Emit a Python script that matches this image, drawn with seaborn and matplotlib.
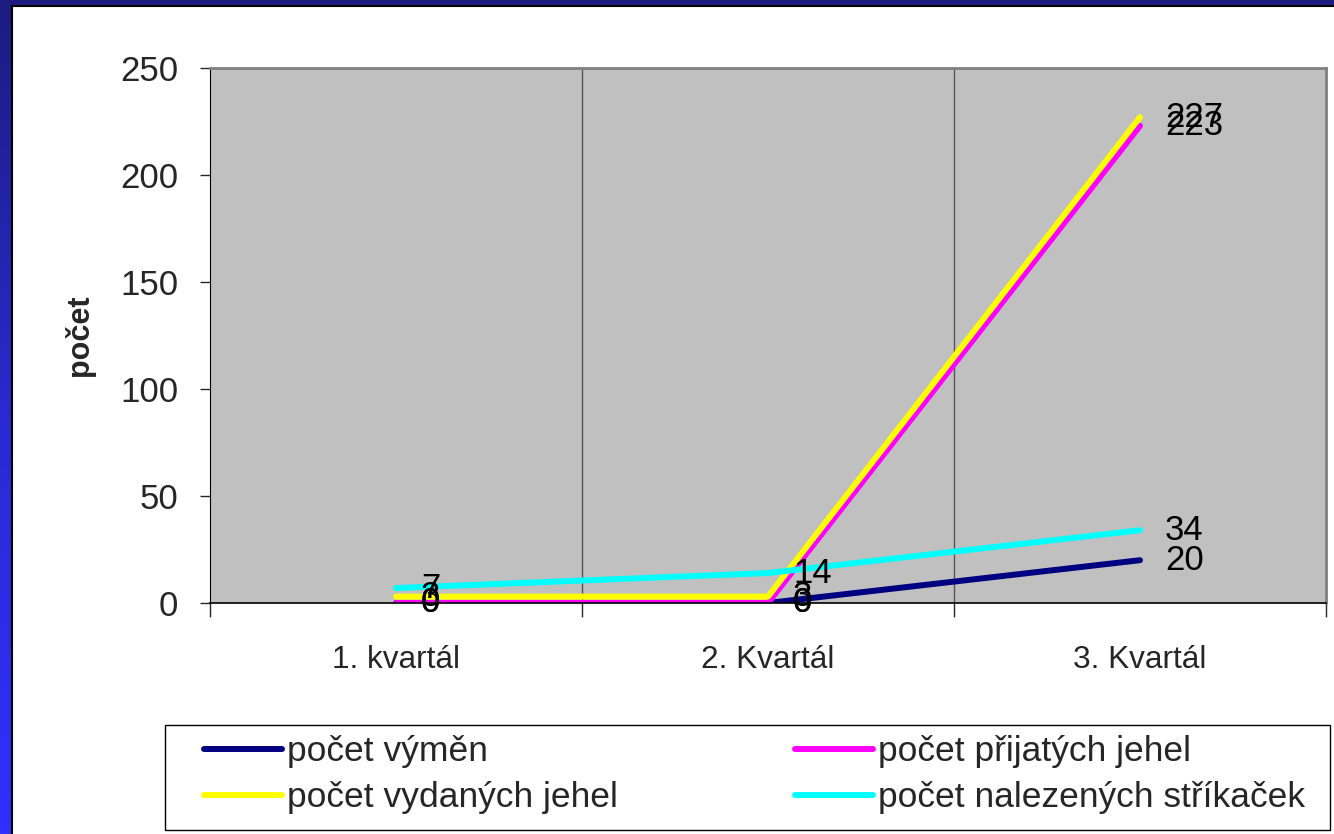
import numpy as np
import pandas as pd
import seaborn as sns
import matplotlib.pyplot as plt
from matplotlib.patches import Rectangle
from matplotlib.lines import Line2D
from matplotlib.colors import LinearSegmentedColormap

# Data
kvartaly = ["1. kvartál", "2. Kvartál", "3. Kvartál"]
pocet_vymen = [0, 0, 20]
pocet_prijatych = [0, 0, 223]
pocet_vydanych = [3, 3, 227]
pocet_nalezenych = [7, 14, 34]

serie = ["počet výměn", "počet přijatých jehel", "počet vydaných jehel", "počet nalezených stříkaček"]
barvy = ["#000080", "#FF00FF", "#FFFF00", "#00FFFF"]

df = pd.DataFrame({
    "x": list(range(3)) * 4,
    "hodnota": pocet_vymen + pocet_prijatych + pocet_vydanych + pocet_nalezenych,
    "serie": [s for s in serie for _ in range(3)],
})

sns.set_style("white")
plt.rcParams['font.family'] = ['Liberation Sans', 'DejaVu Sans']

fig = plt.figure(figsize=(13.34, 8.34), dpi=100)
fig.patch.set_facecolor("white")

# Ramecek: horni pruh a levy pruh s prechodem
fig.patches.append(Rectangle((0, 1 - 6 / 834), 1, 6 / 834, transform=fig.transFigure,
                             facecolor="#1c1c80", edgecolor="none", zorder=0))
ax_bar = fig.add_axes([0, 0, 12 / 1334, 1])
grad = np.linspace(0, 1, 256).reshape(-1, 1)
cmap_ram = LinearSegmentedColormap.from_list("ram", ["#1c1c80", "#2a2ad0", "#3030ff"])
ax_bar.imshow(grad, aspect="auto", cmap=cmap_ram, origin="upper")
ax_bar.axis("off")
fig.add_artist(Line2D([12 / 1334, 12 / 1334], [0, 1 - 6 / 834], transform=fig.transFigure,
                      color="black", linewidth=1.5))
fig.add_artist(Line2D([12 / 1334, 1], [1 - 6 / 834, 1 - 6 / 834], transform=fig.transFigure,
                      color="black", linewidth=1.5))

ax = fig.add_axes([210 / 1334, 231 / 834, 1116 / 1334, 535 / 834])
ax.set_facecolor("#C0C0C0")

sns.lineplot(data=df, x="x", y="hodnota", hue="serie", hue_order=serie, palette=barvy,
             linewidth=4.3, ax=ax, legend=False, solid_capstyle="round")

# Popisky hodnot
for s, hodnoty in zip(serie, [pocet_vymen, pocet_prijatych, pocet_vydanych, pocet_nalezenych]):
    for i, v in enumerate(hodnoty):
        ax.annotate(str(v), (i, v), xytext=(18, 0), textcoords="offset points",
                    ha="left", va="center", fontsize=25, color="black")

ax.set_xlim(-0.5, 2.5)
ax.set_ylim(0, 250)
ax.set_yticks([0, 50, 100, 150, 200, 250])
ax.tick_params(axis="y", labelsize=25, length=7, width=1, direction="out", left=True, pad=16)
ax.set_xticks([-0.5, 0.5, 1.5, 2.5])
ax.set_xticklabels([])
ax.tick_params(axis="x", which="major", length=10, width=1, direction="out", bottom=True)
ax.set_xticks([0, 1, 2], minor=True)
ax.set_xticklabels(kvartaly, minor=True)
ax.tick_params(axis="x", which="minor", length=0, labelsize=22.7, pad=30)
for xg in [0.5, 1.5]:
    ax.axvline(xg, color="#555555", linewidth=1, zorder=0.5)

ax.set_xlabel("")
ax.set_ylabel("počet", fontsize=22, fontweight="bold", labelpad=18)

ax.spines["left"].set_color("black")
ax.spines["bottom"].set_color("black")
ax.spines["bottom"].set_linewidth(1.2)
ax.spines["top"].set_color("#808080")
ax.spines["right"].set_color("#808080")
ax.spines["top"].set_linewidth(2)
ax.spines["right"].set_linewidth(2)

# Legenda (plni se po sloupcich)
fig.patches.append(Rectangle((165 / 1334, 4 / 834), 1165 / 1334, 105 / 834, transform=fig.transFigure,
                             facecolor="white", edgecolor="black", linewidth=1, zorder=1))
h = [Line2D([0], [0], color=c, linewidth=4.3, solid_capstyle="round") for c in barvy]
poradi = [0, 2, 1, 3]
leg = fig.legend([h[i] for i in poradi], [serie[i] for i in poradi], ncol=2,
                 loc="upper left", bbox_to_anchor=(204 / 1334, 1 - 735 / 834),
                 fontsize=25.5, frameon=False, handlelength=2.2, handletextpad=0.14,
                 borderpad=0, borderaxespad=0, labelspacing=0.38, columnspacing=5.0)

fig.savefig("out.png", dpi=100)
